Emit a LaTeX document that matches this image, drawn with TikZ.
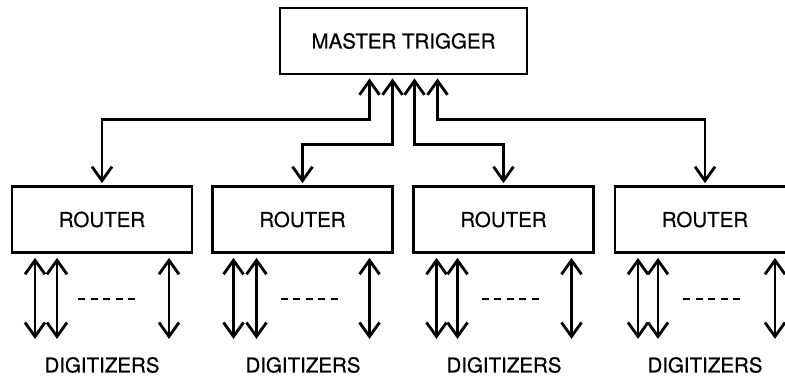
\documentclass[tikz,border=0pt]{standalone}
\usepackage{fontspec}
\setmainfont{TeX Gyre Heros}[FakeBold=0.5]
\usetikzlibrary{arrows.meta, positioning}

\begin{document}
\begin{tikzpicture}[x=1pt, y=-1pt, line width=2.8pt,
  every node/.style={font=\fontsize{20.5}{24}\selectfont},
  box/.style={draw, line width=2.8pt, minimum height=66pt, inner sep=0pt},
  link/.style={{Straight Barb[length=14pt,width=20pt]}-{Straight Barb[length=14pt,width=20pt]}, line width=2.8pt},
  gap/.style={dash pattern=on 7pt off 5.5pt, line width=2.8pt}]

\useasboundingbox (0,0) rectangle (785,377);

% Master trigger
\node[box, minimum width=247pt] (master) at (403.5,41) {MASTER TRIGGER};

% Routers
\node[box, minimum width=180pt] (r1) at (102,219.5) {ROUTER};
\node[box, minimum width=180pt] (r2) at (302.5,219.5) {ROUTER};
\node[box, minimum width=180pt] (r3) at (503.5,219.5) {ROUTER};
\node[box, minimum width=180pt] (r4) at (705,219.5) {ROUTER};

% Master <-> router links
\draw[link, shorten <=3pt, shorten >=2pt] ([xshift=-34pt]master.south) -- ++(0,44) -| (r1.north);
\draw[link, shorten <=3pt, shorten >=2pt] ([xshift=-11pt]master.south) -- ++(0,69) -| (r2.north);
\draw[link, shorten <=3pt, shorten >=2pt] ([xshift=11pt]master.south) -- ++(0,69) -| (r3.north);
\draw[link, shorten <=3pt, shorten >=2pt] ([xshift=34pt]master.south) -- ++(0,44) -| (r4.north);

% Digitizer labels
\node (d1) at (102,365) {DIGITIZERS};
\node (d2) at (303,365) {DIGITIZERS};
\node (d3) at (504,365) {DIGITIZERS};
\node (d4) at (705,365) {DIGITIZERS};

% Router <-> digitizer links
\draw[link] ([xshift=-67pt,yshift=-4pt]r1.south) -- ++(0,81);
\draw[link] ([xshift=-45pt,yshift=-4pt]r1.south) -- ++(0,81);
\draw[link] ([xshift=67pt,yshift=-4pt]r1.south) -- ++(0,81);
\draw[gap] ([xshift=-24pt,yshift=-45pt]r1.south) -- ++(61,0);

\draw[link] ([xshift=-69pt,yshift=-4pt]r2.south) -- ++(0,81);
\draw[link] ([xshift=-46pt,yshift=-4pt]r2.south) -- ++(0,81);
\draw[link] ([xshift=67pt,yshift=-4pt]r2.south) -- ++(0,81);
\draw[gap] ([xshift=-22pt,yshift=-45pt]r2.south) -- ++(61,0);

\draw[link] ([xshift=-67pt,yshift=-4pt]r3.south) -- ++(0,81);
\draw[link] ([xshift=-46pt,yshift=-4pt]r3.south) -- ++(0,81);
\draw[link] ([xshift=68pt,yshift=-4pt]r3.south) -- ++(0,81);
\draw[gap] ([xshift=-22pt,yshift=-45pt]r3.south) -- ++(61,0);

\draw[link] ([xshift=-67pt,yshift=-4pt]r4.south) -- ++(0,81);
\draw[link] ([xshift=-47pt,yshift=-4pt]r4.south) -- ++(0,81);
\draw[link] ([xshift=70pt,yshift=-4pt]r4.south) -- ++(0,81);
\draw[gap] ([xshift=-22pt,yshift=-45pt]r4.south) -- ++(61,0);

\end{tikzpicture}
\end{document}
